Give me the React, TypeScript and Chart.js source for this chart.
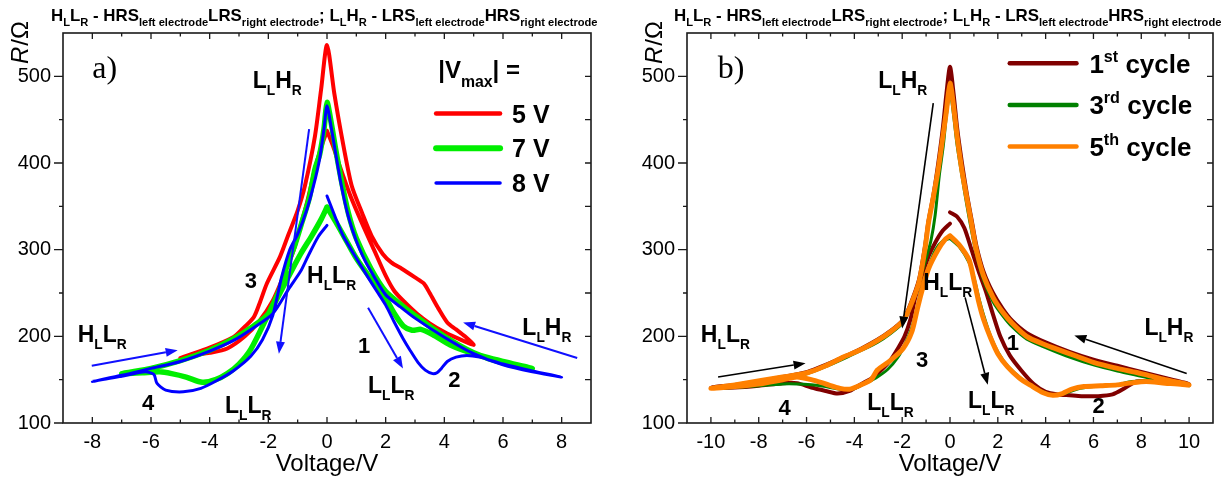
import React, { useEffect, useRef } from "react";
import { Chart, registerables } from "chart.js";
Chart.register(...registerables);

const FONT = '"Liberation Sans", Arial, Helvetica, sans-serif';
const SERIF = '"Liberation Serif", "DejaVu Serif", serif';

// ---------------- Panel a) : |Vmax| = 5, 7, 8 V ----------------
const aTicksX = [-8, -6, -4, -2, 0, 2, 4, 6, 8];
const ticksY = [100, 200, 300, 400, 500];

// 5 V (red): inner right -> outer right -> outer left -> inner left
const v5V = [0, 0.2, 0.45, 0.8, 1.2, 1.6, 2.0, 2.3, 2.66, 3.07, 3.5, 4.0, 4.5, 5.0,
  4.7, 4.4, 4.1, 3.8, 3.5, 3.3, 3.0, 2.55, 2.2, 1.9, 1.52, 1.2, 0.84, 0.5, 0.25, 0,
  -0.2, -0.41, -0.75, -1.0, -1.33, -1.6, -2.05, -2.3, -2.5, -2.9, -3.2, -4.0, -5.0,
  -4.6, -4.0, -3.4, -2.8, -2.3, -1.85, -1.5, -1.15, -0.98, -0.7, -0.41, -0.2, 0];
const r5V = [437, 420, 395, 362, 330, 300, 270, 252, 239, 226, 215, 205, 197, 190,
  200, 208, 216, 232, 250, 261, 268, 278, 285, 295, 316, 342, 374, 431, 480, 536,
  485, 431, 374, 345, 316, 292, 261, 238, 222, 208, 199, 187, 175,
  178, 181, 186, 200, 218, 241, 268, 298, 318, 352, 393, 418, 437];

// 7 V (green)
const v7V = [0, 0.3, 0.6, 1.0, 1.5, 2.0, 2.3, 2.6, 2.9, 3.2, 3.6, 4.2, 5.0, 6.0, 7.0,
  6.0, 5.0, 4.0, 3.0, 2.0, 1.5, 1.0, 0.73, 0.5, 0.3, 0.15, 0,
  -0.1, -0.25, -0.41, -0.6, -0.86, -1.1, -1.43, -1.6, -2.05, -2.6, -3.0, -3.4, -3.8, -4.25, -4.8, -5.3, -5.7, -6.3, -7.0,
  -6.0, -5.0, -4.0, -3.2, -2.5, -2.0, -1.33, -0.9, -0.52, -0.2, 0];
const r7V = [349, 332, 314, 290, 266, 244, 226, 212, 207, 208, 202, 190, 180, 171, 163,
  169, 181, 200, 224, 252, 278, 313, 342, 378, 415, 445, 470,
  440, 410, 393, 360, 331, 305, 275, 255, 222, 185, 168, 157, 150, 147, 153, 157, 159, 158, 157,
  163, 172, 184, 197, 212, 226, 268, 295, 316, 335, 349];

// 8 V (blue)
const v8V = [0, 0.3, 0.55, 1.0, 1.4, 1.7, 2.0, 2.3, 2.6, 2.83, 3.1, 3.35, 3.6, 3.75, 3.9, 4.1, 4.4, 4.77, 5.2, 6.0, 7.0, 8.0,
  7.0, 6.0, 5.0, 4.0, 3.0, 2.5, 2.0, 1.5, 1.3, 1.0, 0.73, 0.5, 0.3, 0.15, 0,
  -0.1, -0.25, -0.45, -0.7, -1.0, -1.27, -1.55, -1.85, -2.2, -2.6, -3.2, -3.75, -4.3, -4.9, -5.5, -5.8, -5.9, -6.2, -7.0, -8.0,
  -7.0, -6.0, -5.0, -4.0, -3.2, -2.5, -1.85, -1.3, -0.9, -0.64, -0.3, 0];
const r8V = [362, 336, 316, 290, 268, 252, 236, 216, 197, 184, 170, 161, 157, 158, 163, 171, 176, 178, 176, 168, 160, 153,
  159, 167, 180, 199, 221, 234, 248, 275, 287, 310, 338, 372, 410, 440, 466,
  440, 405, 375, 345, 318, 300, 268, 224, 196, 177, 160, 149, 140, 136, 138, 146, 156, 159, 154, 148,
  155, 163, 171, 183, 195, 210, 226, 255, 275, 293, 315, 328];

// ---------------- Panel b) : cycles ----------------
const bTicksX = [-10, -8, -6, -4, -2, 0, 2, 4, 6, 8, 10];

// 1st cycle (dark red)
const vC1 = [0, 0.3, 0.6, 0.9, 1.2, 1.5, 1.8, 2.1, 2.5, 3.0, 3.5, 4.0, 4.5, 5.0, 5.5, 6.2, 6.8, 7.3, 7.8, 9, 10,
  9, 8, 7, 6, 5, 4, 3.2, 2.6, 2.2, 1.8, 1.4, 1.1, 0.9, 0.7, 0.5, 0.3, 0.15, 0,
  -0.15, -0.3, -0.5, -0.7, -0.9, -1.05, -1.3, -1.67, -1.96, -2.5, -3.04, -3.7, -4.46, -5.2, -5.96, -7, -8, -9, -10,
  -9, -8, -7, -6.4, -5.8, -5.2, -4.7, -4.2, -3.7, -3.2, -2.8, -2.5, -2.2, -1.9, -1.65, -1.45, -1.2, -0.9, -0.62, -0.3, 0];
const rC1 = [343, 338, 325, 300, 275, 252, 225, 200, 178, 160, 145, 136, 133, 132, 131, 131, 133, 140, 148, 147, 145,
  152, 159, 166, 173, 182, 193, 204, 218, 232, 250, 275, 305, 335, 365, 400, 440, 480, 511,
  480, 440, 398, 362, 333, 303, 265, 236, 219, 206, 196, 186, 176, 167, 159, 153, 148, 144, 141,
  141, 143, 146, 146, 141, 137, 134, 137, 145, 153, 163, 172, 185, 200, 220, 245, 268, 292, 308, 322, 330];

// 3rd cycle (green)
const vC3 = [0, 0.4, 0.8, 1.0, 1.2, 1.4, 1.7, 2.0, 2.4, 2.9, 3.4, 3.9, 4.3, 4.8, 5.3, 6.0, 7.0, 7.6, 8.5, 10,
  9, 8, 7, 6, 5, 4, 3.2, 2.6, 2.2, 1.8, 1.4, 1.1, 0.9, 0.7, 0.5, 0.3, 0.15, 0,
  -0.15, -0.28, -0.45, -0.62, -0.8, -1.0, -1.3, -1.67, -1.96, -2.5, -3.04, -3.7, -4.46, -5.2, -5.96, -7, -8, -9, -10,
  -9, -8, -7, -6.4, -5.8, -5.2, -4.6, -4.1, -3.6, -3.1, -2.6, -2.2, -1.9, -1.6, -1.4, -1.2, -0.9, -0.6, -0.3, 0];
const rC3 = [313, 303, 285, 268, 245, 225, 200, 182, 166, 153, 143, 136, 132, 134, 139, 142, 144, 148, 148, 143,
  148, 154, 160, 167, 176, 187, 197, 211, 224, 240, 265, 295, 322, 352, 385, 420, 455, 483,
  455, 420, 385, 340, 310, 290, 262, 232, 216, 203, 193, 184, 174, 165, 157, 151, 147, 143, 140,
  141, 143, 145, 145, 144, 142, 139, 139, 145, 152, 162, 175, 190, 210, 230, 255, 280, 300, 310, 313];

// 5th cycle (orange)
const vC5 = [0, 0.4, 0.8, 1.0, 1.2, 1.4, 1.7, 2.0, 2.4, 2.9, 3.4, 3.9, 4.3, 4.7, 5.1, 5.6, 6.3, 7.0, 7.5, 8.2, 9, 10,
  9, 8, 7, 6, 5.3, 4.5, 4, 3.2, 2.6, 2.2, 1.8, 1.4, 1.1, 0.9, 0.7, 0.49, 0.3, 0.15, 0,
  -0.15, -0.3, -0.49, -0.7, -0.9, -1.05, -1.3, -1.67, -1.96, -2.5, -3.04, -3.7, -4.46, -5.2, -5.96, -7, -7.9, -9, -10,
  -9, -8, -7, -6.4, -5.8, -5.2, -4.6, -4.2, -3.8, -3.3, -3.04, -2.5, -1.96, -1.6, -1.38, -1.2, -0.9, -0.5, -0.2, 0];
const rC5 = [316, 305, 288, 265, 240, 220, 198, 180, 165, 152, 143, 135, 132, 134, 139, 142, 143, 144, 146, 148, 146, 144,
  150, 157, 163, 170, 177, 185, 190, 200, 215, 228, 245, 270, 300, 330, 360, 393, 430, 465, 492,
  460, 430, 393, 360, 331, 300, 262, 234, 218, 205, 195, 185, 176, 166, 158, 153, 149, 144, 140,
  142, 145, 150, 153, 150, 145, 140, 139, 143, 150, 161, 172, 186, 205, 230, 250, 278, 300, 312, 316];

// ---------------- helpers ----------------
type Seg = { t: string; k: number };
function parse(s: string): Seg[] {
  const out: Seg[] = [];
  let buf = "";
  let i = 0;
  while (i < s.length) {
    if ((s[i] === "_" || s[i] === "^") && s[i + 1] === "{") {
      if (buf) { out.push({ t: buf, k: 0 }); buf = ""; }
      const end = s.indexOf("}", i);
      out.push({ t: s.slice(i + 2, end), k: s[i] === "_" ? 1 : 2 });
      i = end + 1;
    } else { buf += s[i]; i++; }
  }
  if (buf) out.push({ t: buf, k: 0 });
  return out;
}

function richWidth(ctx: CanvasRenderingContext2D, s: string, size: number, o: any = {}) {
  const weight = o.weight ?? "bold";
  const family = o.family ?? FONT;
  const subK = o.subK ?? 0.62;
  let w = 0;
  for (const g of parse(s)) {
    ctx.font = `${weight} ${g.k ? size * subK : size}px ${family}`;
    w += ctx.measureText(g.t).width;
  }
  return w;
}

function drawRich(ctx: CanvasRenderingContext2D, s: string, x: number, y: number, size: number, o: any = {}) {
  const weight = o.weight ?? "bold";
  const family = o.family ?? FONT;
  const subK = o.subK ?? 0.62;
  const w = richWidth(ctx, s, size, o);
  let cx = x;
  if (o.align === "center") cx -= w / 2;
  ctx.textAlign = "left";
  ctx.textBaseline = "alphabetic";
  ctx.fillStyle = o.color ?? "#000";
  for (const g of parse(s)) {
    ctx.font = `${weight} ${g.k ? size * subK : size}px ${family}`;
    const dy = g.k === 1 ? size * (o.subDy ?? 0.3) : g.k === 2 ? -size * 0.42 : 0;
    ctx.fillText(g.t, cx, y + dy);
    cx += ctx.measureText(g.t).width;
  }
  return w;
}

function arrow(ctx: CanvasRenderingContext2D, x1: number, y1: number, x2: number, y2: number, color: string, lw: number) {
  const head = 12, hw = 4.5;
  const a = Math.atan2(y2 - y1, x2 - x1);
  const bx = x2 - head * Math.cos(a), by = y2 - head * Math.sin(a);
  ctx.strokeStyle = color; ctx.lineWidth = lw; ctx.lineCap = "butt";
  ctx.beginPath(); ctx.moveTo(x1, y1); ctx.lineTo(bx, by); ctx.stroke();
  ctx.fillStyle = color;
  ctx.beginPath(); ctx.moveTo(x2, y2);
  ctx.lineTo(bx + hw * Math.sin(a), by - hw * Math.cos(a));
  ctx.lineTo(bx - hw * Math.sin(a), by + hw * Math.cos(a));
  ctx.closePath(); ctx.fill();
}

const TITLE = "H_{L}L_{R} - HRS_{left electrode}LRS_{right electrode}; L_{L}H_{R} - LRS_{left electrode}HRS_{right electrode}";

const decoPlugin = (p: any) => ({
  id: "deco",
  afterDraw(chart: any) {
    const ctx: CanvasRenderingContext2D = chart.ctx;
    const { left, right, top, bottom } = chart.chartArea;
    const xs = chart.scales.x, ys = chart.scales.y;
    const X = (v: number) => xs.getPixelForValue(v);
    const Y = (r: number) => ys.getPixelForValue(r);
    ctx.save();
    // frame and tick marks
    ctx.strokeStyle = "#1a1a1a"; ctx.lineWidth = 1.6;
    ctx.strokeRect(left, top, right - left, bottom - top);
    ctx.lineWidth = 1.3;
    ctx.beginPath();
    for (let v = Math.ceil(p.xMin + 0.01); v <= Math.floor(p.xMax - 0.01); v++) {
      const major = p.xTicks.includes(v);
      const len = major ? 6 : 3.5;
      const x = X(v);
      ctx.moveTo(x, bottom); ctx.lineTo(x, bottom - len);
      ctx.moveTo(x, top); ctx.lineTo(x, top + len);
    }
    for (let r = 100; r <= 500; r += 50) {
      const major = r % 100 === 0;
      const y = Y(r);
      ctx.moveTo(left, y); ctx.lineTo(left - (major ? 9 : 4), y);
      if (r > 100) { ctx.moveTo(right, y); ctx.lineTo(right - 6, y); }
    }
    ctx.stroke();

    // arrows
    for (const a of p.arrows) arrow(ctx, X(a[0]), Y(a[1]), X(a[2]), Y(a[3]), p.arrowColor, p.arrowWidth);

    // labels
    for (const l of p.labels) {
      drawRich(ctx, l.s, X(l.v), Y(l.r), l.size, { family: l.family, weight: l.weight, subK: 0.6 });
    }

    // legend
    const lg = p.legend;
    if (lg.header) drawRich(ctx, lg.header.s, X(lg.header.v), Y(lg.header.r), lg.header.size, { subK: 0.66, subDy: 0.38 });
    for (const it of lg.items) {
      const y = Y(it.r);
      ctx.strokeStyle = it.color; ctx.lineWidth = it.width; ctx.lineCap = "round";
      ctx.beginPath(); ctx.moveTo(X(lg.v0), y); ctx.lineTo(X(lg.v1), y); ctx.stroke();
      drawRich(ctx, it.s, X(lg.vt), y + lg.size * 0.36, lg.size, { subK: 0.62 });
    }

    // top title fitted to its width
    const w0 = richWidth(ctx, TITLE, 13, { subK: 0.66 });
    const size = 13 * (p.title.x1 - p.title.x0) / w0;
    drawRich(ctx, TITLE, p.title.x0, p.title.y, size, { subK: 0.66, subDy: 0.32 });

    // axis titles
    ctx.fillStyle = "#000";
    ctx.font = `24px ${FONT}`;
    ctx.textAlign = "center"; ctx.textBaseline = "alphabetic";
    ctx.fillText("Voltage/V", (left + right) / 2, 471);

    ctx.translate(p.yTitleX, p.yTitleY);
    ctx.rotate(-Math.PI / 2);
    ctx.textAlign = "left";
    ctx.font = `italic 24px ${FONT}`;
    ctx.fillText("R", 0, 0);
    const wr = ctx.measureText("R").width;
    ctx.font = `24px ${FONT}`;
    ctx.fillText("/\u03A9", wr + 1, 0);
    ctx.restore();
  },
});

function mk(v: number[], r: number[]) { return v.map((x, i) => ({ x, y: r[i] })); }

function buildChart(canvas: HTMLCanvasElement, p: any) {
  const datasets = p.series.map((s: any) => ({
    label: s.name,
    data: mk(s.v, s.r),
    showLine: true,
    borderColor: s.color,
    backgroundColor: s.color,
    borderWidth: s.width,
    pointRadius: 0,
    pointHoverRadius: 0,
    tension: 0.25,
    fill: false,
    order: s.order,
    borderCapStyle: "round",
    borderJoinStyle: "round",
  }));
  return new Chart(canvas, {
    type: "scatter",
    data: { datasets },
    options: {
      responsive: false,
      animation: false,
      devicePixelRatio: 1,
      layout: { padding: { left: 0, right: p.padRight, top: 33, bottom: 0 } },
      plugins: { legend: { display: false }, tooltip: { enabled: false } },
      scales: {
        x: {
          type: "linear", min: p.xMin, max: p.xMax,
          grid: { display: false, drawTicks: false }, border: { display: false },
          ticks: { font: { family: FONT, size: 20 }, color: "#000", padding: 7, maxRotation: 0, autoSkip: false, callback: (v: any) => String(v) },
          afterBuildTicks: (sc: any) => { sc.ticks = p.xTicks.map((v: number) => ({ value: v })); },
          afterFit: (sc: any) => { sc.height = 57; },
        },
        y: {
          type: "linear", min: 100, max: 550,
          grid: { display: false, drawTicks: false }, border: { display: false },
          ticks: { font: { family: FONT, size: 20 }, color: "#000", padding: 12, autoSkip: false, callback: (v: any) => String(v) },
          afterBuildTicks: (sc: any) => { sc.ticks = ticksY.map((v) => ({ value: v })); },
          afterFit: (sc: any) => { sc.width = p.yAxisW; },
        },
      },
    } as any,
    plugins: [decoPlugin(p)],
  });
}

const panelA = {
  xMin: -9, xMax: 9, xTicks: aTicksX, padRight: 24, yAxisW: 63,
  title: { x0: 51, x1: 598, y: 21 }, yTitleX: 28, yTitleY: 64,
  series: [
    { name: "5 V", v: v5V, r: r5V, color: "#ff0000", width: 4, order: 2 },
    { name: "7 V", v: v7V, r: r7V, color: "#00ee00", width: 5.5, order: 1 },
    { name: "8 V", v: v8V, r: r8V, color: "#0000ff", width: 3, order: 0 },
  ],
  arrowColor: "#1010ff", arrowWidth: 2,
  arrows: [[-8.02, 166, -5.09, 184], [-0.61, 439, -1.64, 180], [1.40, 233, 2.59, 163], [8.53, 175, 4.64, 216]],
  labels: [
    { s: "a)", v: -8.0, r: 498, size: 32, family: SERIF, weight: "normal" },
    { s: "L_{L}H_{R}", v: -2.53, r: 486, size: 23 },
    { s: "3", v: -2.8, r: 256, size: 22 },
    { s: "H_{L}L_{R}", v: -0.68, r: 261, size: 23 },
    { s: "1", v: 1.06, r: 181, size: 22 },
    { s: "L_{L}L_{R}", v: 1.40, r: 135, size: 23 },
    { s: "2", v: 4.13, r: 141, size: 22 },
    { s: "L_{L}H_{R}", v: 6.66, r: 201, size: 23 },
    { s: "H_{L}L_{R}", v: -8.5, r: 193, size: 23 },
    { s: "4", v: -6.31, r: 115, size: 22 },
    { s: "L_{L}L_{R}", v: -3.48, r: 112, size: 23 },
  ],
  legend: {
    header: { s: "|V_{max}| =", v: 3.79, r: 498, size: 24 },
    v0: 3.72, v1: 5.9, vt: 6.31, size: 25,
    items: [
      { s: "5 V", r: 457, color: "#ff0000", width: 4.5 },
      { s: "7 V", r: 417, color: "#00ee00", width: 6 },
      { s: "8 V", r: 377, color: "#0000ff", width: 3.5 },
    ],
  },
};

const panelB = {
  xMin: -11, xMax: 11, xTicks: bTicksX, padRight: 17, yAxisW: 72,
  title: { x0: 59, x1: 607, y: 21 }, yTitleX: 47, yTitleY: 64,
  series: [
    { name: "1st cycle", v: vC1, r: rC1, color: "#800000", width: 4, order: 2 },
    { name: "3rd cycle", v: vC3, r: rC3, color: "#008000", width: 3, order: 1 },
    { name: "5th cycle", v: vC5, r: rC5, color: "#ff8000", width: 5, order: 0 },
  ],
  arrowColor: "#000000", arrowWidth: 1.6,
  arrows: [[-9.7, 153, -6.04, 169], [-0.7, 469, -2.0, 209], [0.63, 245, 1.58, 144], [9.9, 157, 5.2, 201]],
  labels: [
    { s: "b)", v: -9.71, r: 498, size: 32, family: SERIF, weight: "normal" },
    { s: "L_{L}H_{R}", v: -3.0, r: 486, size: 23 },
    { s: "H_{L}L_{R}", v: -10.42, r: 193, size: 23 },
    { s: "4", v: -7.17, r: 109, size: 22 },
    { s: "L_{L}L_{R}", v: -3.46, r: 115, size: 23 },
    { s: "3", v: -1.42, r: 165, size: 22 },
    { s: "H_{L}L_{R}", v: -1.12, r: 253, size: 23 },
    { s: "1", v: 2.37, r: 184, size: 22 },
    { s: "L_{L}L_{R}", v: 0.75, r: 117, size: 23 },
    { s: "2", v: 5.96, r: 111, size: 22 },
    { s: "L_{L}H_{R}", v: 8.13, r: 201, size: 23 },
  ],
  legend: {
    header: null,
    v0: 2.5, v1: 5.29, vt: 5.83, size: 26,
    items: [
      { s: "1^{st} cycle", r: 515, color: "#800000", width: 4.5 },
      { s: "3^{rd} cycle", r: 467, color: "#008000", width: 4.5 },
      { s: "5^{th} cycle", r: 419, color: "#ff8000", width: 4.5 },
    ],
  },
};

export default function App() {
  const refA = useRef<HTMLCanvasElement>(null);
  const refB = useRef<HTMLCanvasElement>(null);
  useEffect(() => {
    const ca = buildChart(refA.current!, panelA);
    const cb = buildChart(refB.current!, panelB);
    return () => { ca.destroy(); cb.destroy(); };
  }, []);
  return (
    <div style={{ position: "absolute", left: 0, top: 0, width: 1230, height: 480, background: "#fff" }}>
      <canvas ref={refA} width={615} height={480} style={{ position: "absolute", left: 0, top: 0 }} />
      <canvas ref={refB} width={615} height={480} style={{ position: "absolute", left: 615, top: 0 }} />
    </div>
  );
}
